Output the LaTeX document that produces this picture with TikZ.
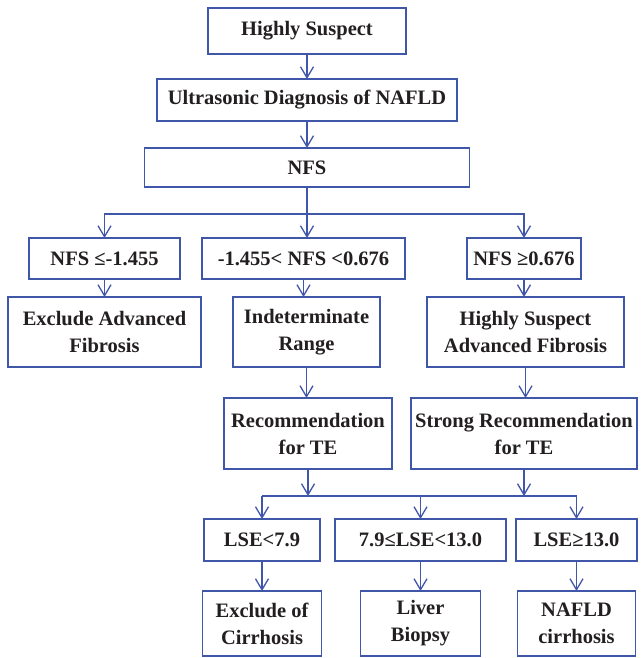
\documentclass[tikz,border=0pt]{standalone}
\usepackage{fontspec}
\setmainfont{Liberation Serif}
\usepackage{xcolor}
\usetikzlibrary{arrows.meta, positioning, calc}

\definecolor{flowblue}{RGB}{64,86,168}
\definecolor{inkgray}{RGB}{35,31,32}

\begin{document}
\begin{tikzpicture}[
    stepbox/.style={rectangle, draw=flowblue, line width=1.3pt, fill=white, align=center,
      font=\fontsize{20.5}{27}\selectfont\bfseries, text=inkgray, inner sep=2pt, outer sep=0pt},
    arrow/.style={-{Straight Barb[length=11pt, width=13pt]}, draw=flowblue, line width=1.3pt},
    link/.style={draw=flowblue, line width=1.3pt}
  ]
  \useasboundingbox (0,0) rectangle (640pt,-658pt);

  \node[stepbox, minimum width=198pt, minimum height=46pt] (hs) at (307pt,-31pt) {Highly Suspect};
  \node[stepbox, minimum width=300pt, minimum height=42pt, below=25pt of hs] (us) {Ultrasonic Diagnosis of NAFLD};
  \node[stepbox, minimum width=325pt, minimum height=39pt, below=27pt of us] (nfs) {NFS};

  \node[stepbox, minimum width=203pt, minimum height=41pt, below=51pt of nfs, xshift=-3.5pt] (nfsmid) {-1.455< NFS <0.676};
  \node[stepbox, minimum width=151pt, minimum height=41pt, left=22pt of nfsmid] (nfslow) {NFS ≤-1.455};
  \node[stepbox, minimum width=114pt, minimum height=41pt, right=62pt of nfsmid] (nfshigh) {NFS ≥0.676};

  \node[stepbox, minimum width=193pt, minimum height=70pt, below=18pt of nfslow] (exclfib) {Exclude Advanced\\Fibrosis};
  \node[stepbox, minimum width=147pt, minimum height=70pt, below=18pt of nfsmid, xshift=3pt] (indet) {Indeterminate\\Range};
  \node[stepbox, minimum width=197pt, minimum height=70pt, below=18pt of nfshigh, xshift=1.5pt] (suspfib) {Highly Suspect\\Advanced Fibrosis};

  \node[stepbox, minimum width=168pt, minimum height=71pt, below=31pt of indet, xshift=1.5pt] (rec) {Recommendation\\for TE};
  \node[stepbox, minimum width=226pt, minimum height=71pt, below=31pt of suspfib, xshift=-1.5pt] (strongrec) {Strong Recommendation\\for TE};

  \node[stepbox, minimum width=116pt, minimum height=42pt, below=50pt of rec, xshift=-46pt] (lselow) {LSE<7.9};
  \node[stepbox, minimum width=171pt, minimum height=42pt, right=15pt of lselow] (lsemid) {7.9≤LSE<13.0};
  \node[stepbox, minimum width=121pt, minimum height=42pt, right=10pt of lsemid] (lsehigh) {LSE≥13.0};

  \node[stepbox, minimum width=119pt, minimum height=65pt, below=30pt of lselow] (nocirr) {Exclude of\\Cirrhosis};
  \node[stepbox, minimum width=120pt, minimum height=65pt, below=30pt of lsemid] (biopsy) {Liver\\Biopsy};
  \node[stepbox, minimum width=118pt, minimum height=65pt, below=30pt of lsehigh] (cirr) {NAFLD\\cirrhosis};

  \draw[arrow] (hs) -- (us);
  \draw[arrow] (us) -- (nfs);
  % NFS splits into the three score ranges
  \coordinate (nfssplit) at ($(nfs.south)+(0,-27pt)$);
  \draw[arrow] (nfs.south) -- (nfs.south |- nfsmid.north);
  \draw[arrow] (nfssplit) -| (nfslow);
  \draw[arrow] (nfssplit) -| (nfshigh);
  \draw[arrow] (nfslow) -- (exclfib);
  \draw[arrow] (nfsmid.south) -- (nfsmid.south |- indet.north);
  \draw[arrow] (nfshigh.south) -- (nfshigh.south |- suspfib.north);
  \draw[arrow] (indet.south) -- (indet.south |- rec.north);
  \draw[arrow] (suspfib.south) -- (suspfib.south |- strongrec.north);
  % both TE boxes merge onto one bar feeding the LSE ranges
  \coordinate (lsesplit) at ($(rec.south)+(0,-27pt)$);
  \draw[arrow] (rec.south) -- (lsesplit);
  \draw[arrow] (strongrec.south) -- (strongrec.south |- lsesplit);
  \draw[link] (lsesplit -| lselow) -- (lsesplit -| lsehigh);
  \draw[arrow] (lsesplit -| lselow) -- (lselow);
  \draw[arrow] (lsesplit -| lsemid) -- (lsemid);
  \draw[arrow] (lsesplit -| lsehigh) -- (lsehigh);
  \draw[arrow] (lselow) -- (nocirr);
  \draw[arrow] (lsemid) -- (biopsy);
  \draw[arrow] (lsehigh) -- (cirr);
\end{tikzpicture}
\end{document}
